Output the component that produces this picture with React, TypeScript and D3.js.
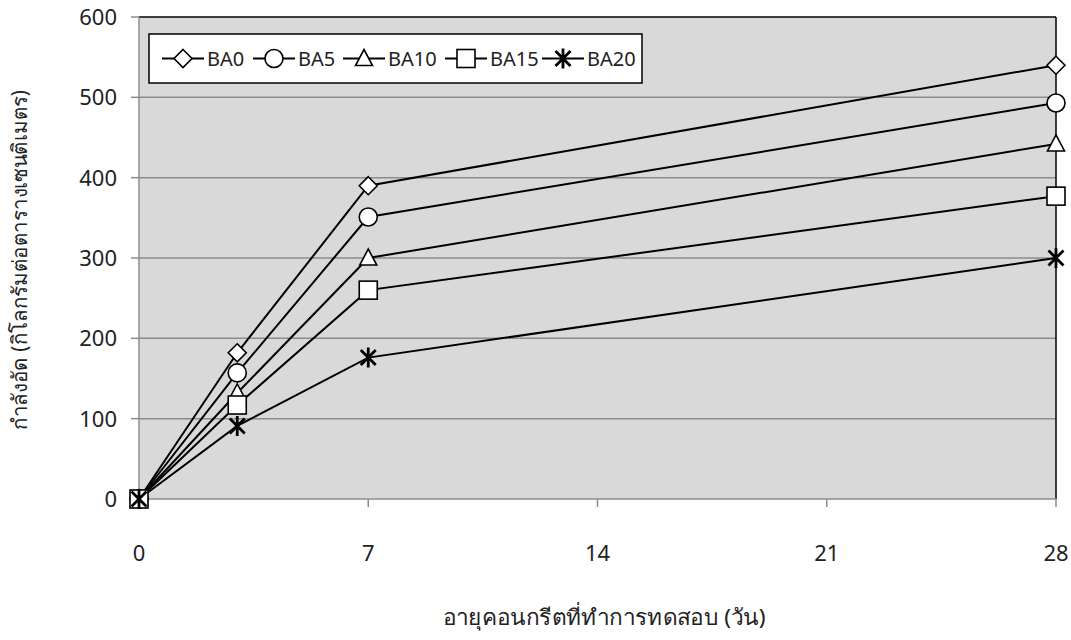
import React from "react";
import * as d3 from "d3";

const days = [0, 3, 7, 28];
const seriesNames = ["BA0", "BA5", "BA10", "BA15", "BA20"];
const BA0 = [0, 182, 390, 540];
const BA5 = [0, 157, 351, 493];
const BA10 = [0, 132, 300, 442];
const BA15 = [0, 117, 260, 377];
const BA20 = [0, 91, 176, 300];
const seriesValues = [BA0, BA5, BA10, BA15, BA20];
const markers = ["diamond", "circle", "triangle", "square", "star"];
const xTicks = [0, 7, 14, 21, 28];
const yTicks = [0, 100, 200, 300, 400, 500, 600];
const yTitle = "กำลังอัด (กิโลกรัมต่อตารางเซนติเมตร)";
const xTitle = "อายุคอนกรีตที่ทำการทดสอบ (วัน)";

const W = 1071, H = 640;
const L = 139, R = 1056, T = 17, B = 499;
const FONT = "'Noto Sans', 'DejaVu Sans', sans-serif";

function Marker({ type, x, y }: { type: string; x: number; y: number }) {
  const s = { fill: "#fff", stroke: "#000", strokeWidth: 1.6 };
  if (type === "diamond")
    return <path d={`M${x},${y - 9}L${x + 9},${y}L${x},${y + 9}L${x - 9},${y}Z`} {...s} />;
  if (type === "circle") return <circle cx={x} cy={y} r={9} {...s} />;
  if (type === "triangle")
    return <path d={`M${x},${y - 9}L${x + 8.5},${y + 7}L${x - 8.5},${y + 7}Z`} {...s} />;
  if (type === "square") return <rect x={x - 9} y={y - 9} width={18} height={18} {...s} />;
  return (
    <path
      d={`M${x - 7.5},${y - 7.5}L${x + 7.5},${y + 7.5}M${x + 7.5},${y - 7.5}L${x - 7.5},${y + 7.5}M${x},${y - 10}L${x},${y + 10}`}
      stroke="#000"
      strokeWidth={2.8}
      fill="none"
    />
  );
}

export default function App() {
  const x = d3.scaleLinear().domain([0, 28]).range([L, R]);
  const y = d3.scaleLinear().domain([0, 600]).range([B, T]);
  const line = d3
    .line<number>()
    .x((_, i) => x(days[i]))
    .y((d) => y(d));

  const legendX = 149, legendY = 34, legendW = 493, legendH = 49;
  const itemStarts = [162, 253, 343, 445, 542];

  return (
    <svg
      width={W}
      height={H}
      style={{ position: "absolute", left: 0, top: 0, background: "#fff" }}
      fontFamily={FONT}
    >
      <rect x={L} y={T} width={R - L} height={B - T} fill="#d9d9d9" />
      {yTicks.slice(1, -1).map((t) => (
        <line key={t} x1={L} x2={R} y1={y(t)} y2={y(t)} stroke="#8c8c8c" strokeWidth={1.5} />
      ))}
      {/* borders */}
      <line x1={L} x2={R} y1={T} y2={T} stroke="#000" strokeWidth={1.5} />
      <line x1={R} x2={R} y1={T} y2={B} stroke="#000" strokeWidth={1.5} />
      <line x1={L} x2={L} y1={T} y2={B + 0.5} stroke="#8c8c8c" strokeWidth={1.5} />
      <line x1={L} x2={R} y1={B} y2={B} stroke="#8c8c8c" strokeWidth={1.5} />
      {yTicks.map((t) => (
        <g key={t}>
          <line x1={L - 8} x2={L} y1={y(t)} y2={y(t)} stroke="#8c8c8c" strokeWidth={1.5} />
          <text x={117} y={y(t)} dy="0.36em" textAnchor="end" fontSize={22} fill="#222">
            {t}
          </text>
        </g>
      ))}
      {xTicks.map((t) => (
        <g key={t}>
          <line x1={x(t)} x2={x(t)} y1={B} y2={B + 8} stroke="#8c8c8c" strokeWidth={1.5} />
          <text x={x(t)} y={553} dy="0.36em" textAnchor="middle" fontSize={22} fill="#222">
            {t}
          </text>
        </g>
      ))}
      <text
        transform={`translate(20,260) rotate(-90)`}
        textAnchor="middle"
        dy="0.35em"
        fontSize={21}
        fill="#222"
        textLength={340}
        lengthAdjust="spacingAndGlyphs"
      >
        {yTitle}
      </text>
      <text
        x={604}
        y={617}
        dy="0.35em"
        textAnchor="middle"
        fontSize={22}
        fill="#222"
        textLength={323}
        lengthAdjust="spacingAndGlyphs"
      >
        {xTitle}
      </text>
      {seriesValues.map((vals, i) => (
        <path key={i} d={line(vals) || ""} fill="none" stroke="#000" strokeWidth={2} />
      ))}
      {seriesValues.map((vals, i) =>
        vals.map((v, j) => <Marker key={`${i}-${j}`} type={markers[i]} x={x(days[j])} y={y(v)} />)
      )}
      {/* legend */}
      <rect x={legendX} y={legendY} width={legendW} height={legendH} fill="#fff" stroke="#000" strokeWidth={1.5} />
      {seriesNames.map((n, i) => {
        const sx = itemStarts[i];
        const cy = legendY + legendH / 2;
        return (
          <g key={n}>
            <line x1={sx} x2={sx + 42} y1={cy} y2={cy} stroke="#000" strokeWidth={2} />
            <Marker type={markers[i]} x={sx + 21} y={cy} />
            <text x={sx + 45} y={cy} dy="0.36em" fontSize={20} fill="#222">
              {n}
            </text>
          </g>
        );
      })}
    </svg>
  );
}
